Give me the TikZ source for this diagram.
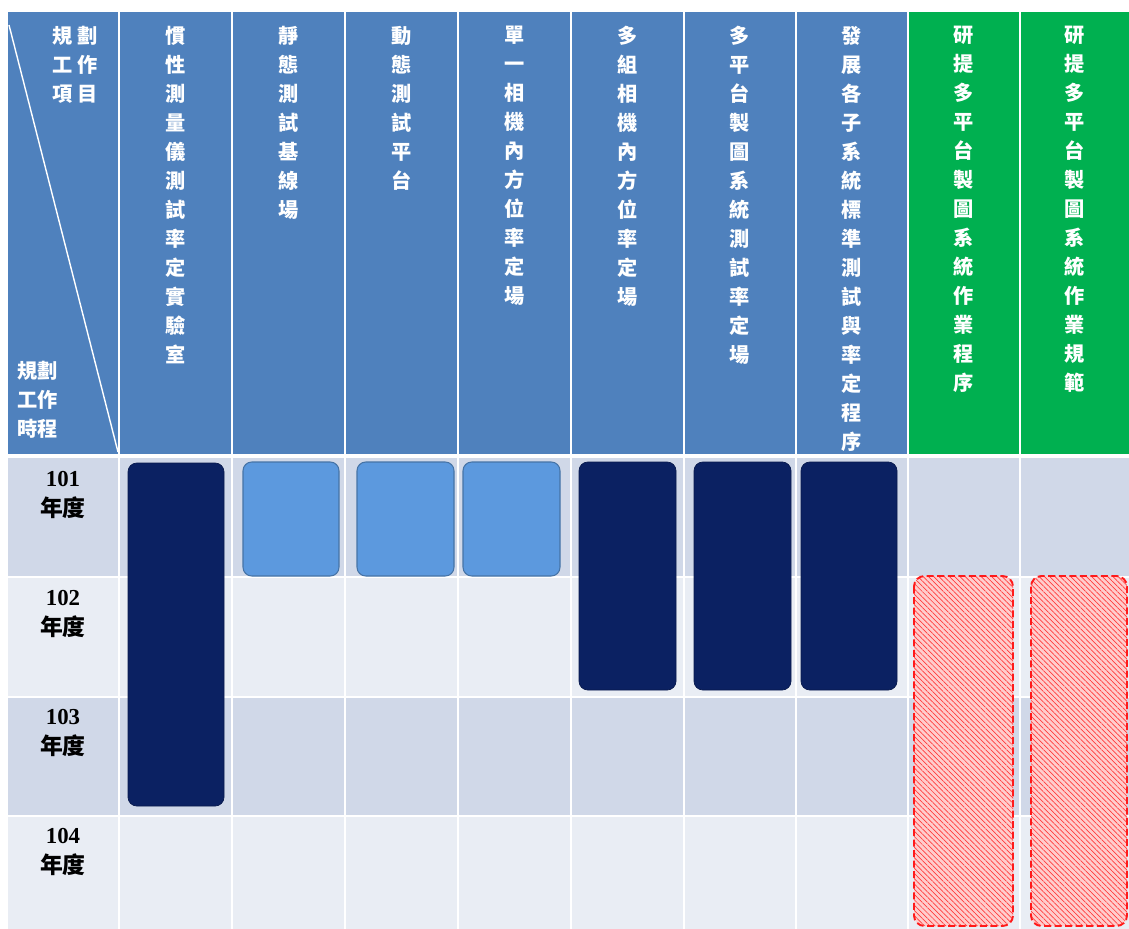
\documentclass[tikz,border=0pt]{standalone}
\usepackage{fontspec}
\setmainfont{Liberation Serif}
\newfontfamily\cjk{Noto Sans CJK TC}
\usetikzlibrary{patterns}
\definecolor{PlanBlue}{HTML}{4F81BD}
\definecolor{PlanGreen}{HTML}{00B050}
\definecolor{PlanRowDark}{HTML}{D0D8E8}
\definecolor{PlanRowLight}{HTML}{E9EDF4}
\definecolor{PlanNavy}{HTML}{0B2162}
\definecolor{PlanSky}{HTML}{5C99DE}
\definecolor{PlanRed}{HTML}{FF1A1A}
\tikzset{
  plangrid/.style={draw=white,line width=1.2pt},
  planhead/.style={
    anchor=north,
    inner sep=0pt,
    align=center,
    text=white,
    font=\cjk\bfseries\fontsize{11.5}{16.5}\selectfont
  },
  planyear/.style={
    align=center,
    inner sep=0pt,
    font=\bfseries\fontsize{13}{17.6}\selectfont
  },
  navybar/.style={fill=PlanNavy,draw=PlanNavy!80!black,rounded corners=5pt},
  skybar/.style={fill=PlanSky,draw=PlanSky!75!black,line width=0.6pt,rounded corners=5pt},
  hatchbar/.style={
    preaction={fill=PlanRed!22},
    pattern=north west lines,
    pattern color=PlanRed!85,
    draw=PlanRed,
    line width=1.1pt,
    dash pattern=on 4pt off 2pt,
    rounded corners=6pt
  }
}

\begin{document}
\begin{tikzpicture}[x=0.02cm,y=-0.02cm]
  \useasboundingbox (0,0) rectangle (1129,929);

  % header and row bands
  \fill[PlanBlue] (8,12) rectangle (908,456);
  \fill[PlanGreen] (908,12) rectangle (1129,456);
  \foreach \top/\bot/\shade in {456/577/PlanRowDark,577/697/PlanRowLight,
                                697/816/PlanRowDark,816/929/PlanRowLight}
    \fill[\shade] (8,\top) rectangle (1129,\bot);

  % grid
  \foreach \x in {119,232,345,458,571,684,796,908,1020}
    \draw[plangrid] (\x,12) -- (\x,929);
  \foreach \y in {577,697,816}
    \draw[plangrid] (8,\y) -- (1129,\y);
  \draw[plangrid,line width=1.8pt] (8,456) -- (1129,456);
  \draw[plangrid,line width=0.8pt] (9,25) -- (118,452);

  % corner labels
  \node[planhead] (itemLab) at (75,26) {規\hspace{3pt}劃\\工\hspace{3pt}作\\項\hspace{3pt}目};
  \node[planhead,anchor=north west] (timeLab) at (17,361) {規劃\\工作\\時程};

  % column headers
  \node[planhead] (imuLab) at (175.5,26) {慣\\性\\測\\量\\儀\\測\\試\\率\\定\\實\\驗\\室};
  \node[planhead] (baseLab) at (288.5,26) {靜\\態\\測\\試\\基\\線\\場};
  \node[planhead] (dynLab) at (401.5,26) {動\\態\\測\\試\\平\\台};
  \node[planhead] (singleLab) at (514.5,26) {單\\一\\相\\機\\內\\方\\位\\率\\定\\場};
  \node[planhead] (multiLab) at (627.5,26) {多\\組\\相\\機\\內\\方\\位\\率\\定\\場};
  \node[planhead] (mmsLab) at (740,26) {多\\平\\台\\製\\圖\\系\\統\\測\\試\\率\\定\\場};
  \node[planhead] (stdLab) at (852,26) {發\\展\\各\\子\\系\\統\\標\\準\\測\\試\\與\\率\\定\\程\\序};
  \node[planhead] (procLab) at (964,26) {研\\提\\多\\平\\台\\製\\圖\\系\\統\\作\\業\\程\\序};
  \node[planhead] (specLab) at (1075,26) {研\\提\\多\\平\\台\\製\\圖\\系\\統\\作\\業\\規\\範};

  % years
  \node[planyear] (y101) at (63,495) {101\\{\cjk 年度}};
  \node[planyear] (y102) at (63,614) {102\\{\cjk 年度}};
  \node[planyear] (y103) at (63,733) {103\\{\cjk 年度}};
  \node[planyear] (y104) at (63,852) {104\\{\cjk 年度}};

  % schedule bars
  \draw[navybar] (128,463) rectangle (224,806);
  \draw[skybar] (243,462) rectangle (339,576);
  \draw[skybar] (357,462) rectangle (454,576);
  \draw[skybar] (463,462) rectangle (560,576);
  \draw[navybar] (579,462) rectangle (676,690);
  \draw[navybar] (694,462) rectangle (791,690);
  \draw[navybar] (801,462) rectangle (897,690);
  \draw[hatchbar] (914,576) rectangle (1013,926);
  \draw[hatchbar] (1031,576) rectangle (1127,926);
\end{tikzpicture}
\end{document}
